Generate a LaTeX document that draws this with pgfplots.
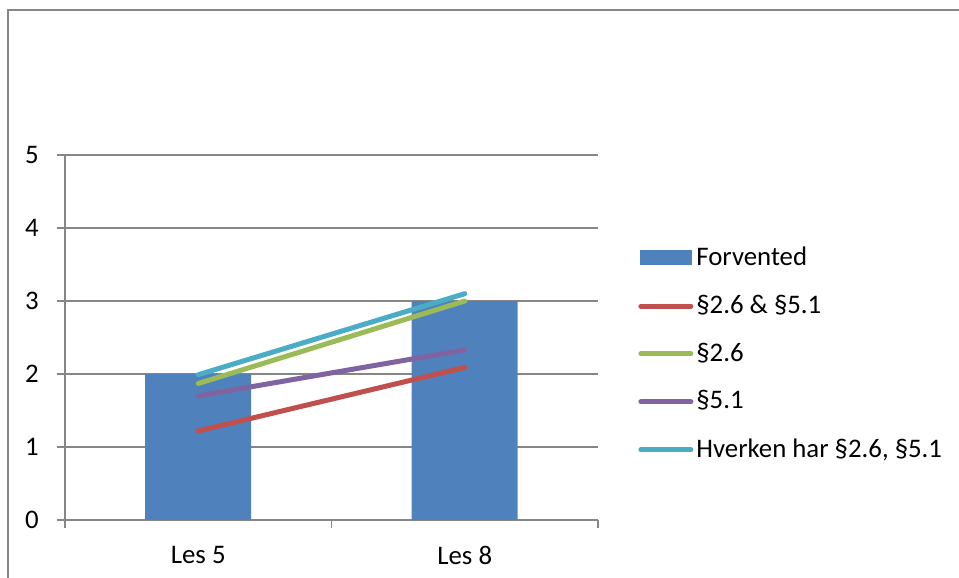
\documentclass[border=0pt]{standalone}
\usepackage{fontspec}
\setmainfont{Carlito}
\usepackage{pgfplots}
\pgfplotsset{compat=1.18}

\definecolor{barblue}{RGB}{79,129,189}
\definecolor{sred}{RGB}{192,80,77}
\definecolor{sgreen}{RGB}{155,187,89}
\definecolor{spurple}{RGB}{128,100,162}
\definecolor{scyan}{RGB}{75,172,198}
\definecolor{gridgray}{RGB}{134,134,134}

\begin{document}
\fontsize{13.4pt}{16pt}\selectfont
\begin{tikzpicture}
\useasboundingbox (0,0) rectangle (479.5pt,289pt);
% chart area frame
\draw[gridgray, line width=1pt] (4pt,0pt) -- (4pt,284pt) -- (479.5pt,284pt);
\begin{axis}[
  at={(32.5pt,29pt)}, anchor=south west,
  scale only axis, width=266.5pt, height=182.5pt,
  xmin=-0.5, xmax=1.5, ymin=0, ymax=5,
  xtick={-0.5,0.5,1.5}, xticklabels={Les 5, Les 8}, x tick label as interval,
  ytick={0,1,2,3,4,5},
  axis x line*=bottom, axis y line*=left,
  ymajorgrids, grid style={gridgray, line width=0.75pt},
  axis line style={gridgray, line width=0.75pt},
  tick align=outside, major tick length=4pt,
  tick style={gridgray, line width=0.75pt},
  /pgf/number format/assume math mode=true,
  ticklabel style={font=\fontsize{13.4pt}{16pt}\selectfont, text=black},
  yticklabel style={xshift=-4.5pt},
  xticklabel style={yshift=-4.5pt},
  legend style={at={(1.075,0.455)}, anchor=west, draw=none, fill=none,
    inner sep=0pt, row sep=8.8pt,
    font=\fontsize{13.4pt}{16pt}\selectfont,
    nodes={inner xsep=1.5pt}},
  legend cell align=left,
]
\addplot[ybar, bar width=53pt, bar shift=0pt, fill=barblue, draw=none,
  legend image code/.code={\fill[barblue] (0pt,-3.75pt) rectangle (26pt,3.75pt);}]
  coordinates {(0,2) (1,3)};
\addlegendentry{Forvented}

\pgfplotsset{every axis plot/.append style={line width=2.5pt, line cap=round},
  legend image code/.code={\draw[line width=2.5pt, line cap=round, #1] (0.5pt,0pt) -- (25.5pt,0pt);}}

\addplot[sred] coordinates {(0,1.22) (1,2.09)};
\addlegendentry{§2.6 \& §5.1}
\addplot[sgreen] coordinates {(0,1.87) (1,3.00)};
\addlegendentry{§2.6}
\addplot[spurple] coordinates {(0,1.70) (1,2.33)};
\addlegendentry{§5.1}
\addplot[scyan] coordinates {(0,1.99) (1,3.10)};
\addlegendentry{Hverken har §2.6, §5.1}
\end{axis}
\end{tikzpicture}
\end{document}
